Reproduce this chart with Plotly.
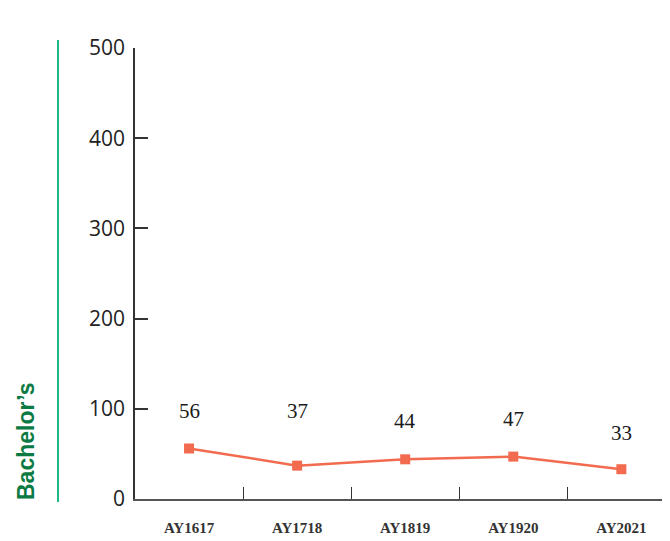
import plotly.graph_objects as go

categories = ["AY1617", "AY1718", "AY1819", "AY1920", "AY2021"]
values = [56, 37, 44, 47, 33]
label_shift = [37, 55, 38, 38, 36]
y_ticks = [0, 100, 200, 300, 400, 500]
series_name = "Bachelor’s"

line_color = "#F26B4F"
axis_color = "#333333"

fig = go.Figure()
fig.add_trace(go.Scatter(
    x=categories, y=values, mode="lines+markers",
    line=dict(color=line_color, width=2.5),
    marker=dict(symbol="square", size=10, color=line_color),
    showlegend=False, hoverinfo="skip",
))

for c, v, s in zip(categories, values, label_shift):
    fig.add_annotation(x=c, y=v, text=str(v), showarrow=False, yshift=s,
                       font=dict(family="Liberation Serif", size=21, color="#1a1a1a"))

# green vertical bar and series label
fig.add_shape(type="line", xref="paper", yref="paper",
              x0=-0.1439, x1=-0.1439, y0=-0.0066, y1=1.0177,
              line=dict(color="#1DB888", width=2))
fig.add_annotation(xref="paper", yref="paper", x=-0.2037, y=0.1286,
                   xanchor="center", yanchor="middle",
                   text="<b>" + series_name + "</b>", textangle=-90, showarrow=False,
                   font=dict(family="Liberation Sans", size=23, color="#0B7A43"))

fig.update_layout(
    width=662, height=533,
    margin=dict(l=127, r=0, t=40, b=42, autoexpand=False),
    plot_bgcolor="white", paper_bgcolor="white",
    xaxis=dict(
        type="category", range=[-0.5, 4.45], tickson="boundaries", automargin=False,
        ticks="inside", ticklen=12, tickwidth=1.2, tickcolor=axis_color,
        showline=True, linecolor="#555555", linewidth=2, showgrid=False, zeroline=False,
        tickfont=dict(family="Liberation Serif", size=15, color="#333333", weight="bold"),
        ticklabelstandoff=14,
    ),
    yaxis=dict(
        range=[0, 500], tickvals=y_ticks, ticks="inside", ticklen=13, tickwidth=1.5,
        automargin=False,
        tickcolor=axis_color, showline=True, linecolor=axis_color, linewidth=1.5,
        showgrid=False, zeroline=False,
        tickfont=dict(family="Open Sans", size=21, color="#222222"),
        ticklabelstandoff=4,
    ),
)

fig.write_html("out.html")
